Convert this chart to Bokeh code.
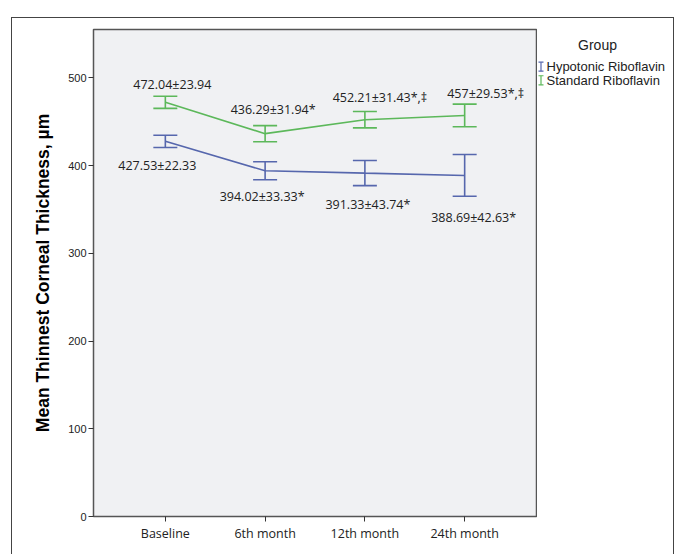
from bokeh.plotting import figure
from bokeh.layouts import row
from bokeh.models import (ColumnDataSource, Whisker, TeeHead, Range1d,
                          FixedTicker)
from bokeh.core.properties import value
from bokeh.embed import file_html
from bokeh.resources import INLINE

# ---- data ----
time_points = ["Baseline", "6th month", "12th month", "24th month"]
hypo_mean = [427.53, 394.02, 391.33, 388.69]
hypo_ci = [7.0, 10.2, 14.3, 23.8]
std_mean = [472.04, 436.29, 452.21, 457.0]
std_ci = [6.9, 9.2, 9.3, 12.9]
hypo_labels = ["427.53\u00b122.33", "394.02\u00b133.33*", "391.33\u00b143.74*", "388.69\u00b142.63*"]
std_labels = ["472.04\u00b123.94", "436.29\u00b131.94*", "452.21\u00b131.43*,\u2021", "457\u00b129.53*,\u2021"]
y_ticks = [0, 100, 200, 300, 400, 500]
series_names = ["Hypotonic Riboflavin", "Standard Riboflavin"]
legend_title = "Group"

# ---- style ----
BLUE = "#5667ad"
GREEN = "#5cb85a"
series_colors = [BLUE, GREEN]
hypo_dx = [-8, -3, 3, 9]
hypo_dy = [24, 26, 31, 42]
std_dx = [7, 8, 15, 21]
std_dy = [-18, -24, -22, -22]
BORDER = "1.5px solid #444444"

x_pos = list(range(1, len(time_points) + 1))

p = figure(width=526, height=537, output_backend="svg", toolbar_location=None,
           x_range=Range1d(0.28, 4.72), y_range=Range1d(0, 555),
           min_border_left=81, min_border_right=2, min_border_top=11,
           min_border_bottom=39)
p.margin = (17, 0, 0, 11)
p.styles = {"border-left": BORDER, "border-top": BORDER,
            "box-sizing": "border-box"}
p.background_fill_color = "#f0f1f3"
p.border_fill_color = "white"
p.outline_line_color = "#555555"
p.outline_line_width = 1.5
p.xgrid.visible = False
p.ygrid.visible = False

# axes
p.xaxis.ticker = FixedTicker(ticks=x_pos)
p.xaxis.major_label_overrides = {i: t for i, t in zip(x_pos, time_points)}
p.xaxis.minor_tick_line_color = None
p.xaxis.major_tick_in = 0
p.xaxis.major_tick_out = 5
p.xaxis.axis_line_color = "#555555"
p.xaxis.major_tick_line_color = "#333333"
p.xaxis.major_label_text_font = "Open Sans"
p.xaxis.major_label_text_font_size = "12.5px"
p.xaxis.major_label_text_color = "#222222"
p.xaxis.major_label_standoff = 3

p.yaxis.ticker = FixedTicker(ticks=y_ticks)
p.yaxis.minor_tick_line_color = None
p.yaxis.major_tick_in = 0
p.yaxis.major_tick_out = 5
p.yaxis.axis_line_color = "#555555"
p.yaxis.major_tick_line_color = "#333333"
p.yaxis.major_label_text_font = "Liberation Sans"
p.yaxis.major_label_text_font_size = "11px"
p.yaxis.major_label_text_color = "#222222"
p.yaxis.major_label_standoff = 2
p.yaxis.axis_label = "Mean Thinnest Corneal Thickness, \u00b5m"
p.yaxis.axis_label_text_font = "Liberation Sans"
p.yaxis.axis_label_text_font_style = "bold"
p.yaxis.axis_label_text_font_size = "17.5px"
p.yaxis.axis_label_text_color = "#000000"
p.yaxis.axis_label_standoff = 12

for mean, ci, labels, dx, dy, color in [
        (hypo_mean, hypo_ci, hypo_labels, hypo_dx, hypo_dy, BLUE),
        (std_mean, std_ci, std_labels, std_dx, std_dy, GREEN)]:
    src = ColumnDataSource(dict(
        x=x_pos, y=mean,
        upper=[m + c for m, c in zip(mean, ci)],
        lower=[m - c for m, c in zip(mean, ci)],
        text=labels, dx=dx, dy=dy))
    p.line("x", "y", source=src, line_color=color, line_width=1.6)
    w = Whisker(base="x", upper="upper", lower="lower", source=src,
                dimension="height", line_color=color, line_width=1.6,
                upper_head=TeeHead(size=24, line_color=color, line_width=1.6),
                lower_head=TeeHead(size=24, line_color=color, line_width=1.6))
    p.add_layout(w)
    p.text("x", "y", text="text", source=src, x_offset="dx", y_offset="dy",
           text_align="center", text_baseline="middle",
           text_font=value("Open Sans"), text_font_size="12.5px",
           text_color="#222222")

# ---- legend panel (separate small figure, pixel-like coordinates) ----
q = figure(width=137, height=537, output_backend="svg", toolbar_location=None,
           x_range=Range1d(0, 137), y_range=Range1d(537, 0),
           x_axis_location=None, y_axis_location=None, min_border=0)
q.margin = (17, 0, 0, 0)
q.styles = {"border-top": BORDER, "border-right": BORDER,
            "box-sizing": "border-box"}
q.outline_line_color = None
q.grid.visible = False
q.background_fill_color = "white"
q.border_fill_color = "white"

row_y = [41, 56]
icon_x = 3.5
q.text(x=[60], y=[17], text=[legend_title], text_align="center",
       text_baseline="middle", text_font=value("Liberation Sans"),
       text_font_size="14px", text_color="#222222")
q.text(x=[9, 9], y=row_y, text=series_names, text_align="left",
       text_baseline="middle", text_font=value("Liberation Sans"),
       text_font_size="13px", text_color="#222222")
for yy, color in zip(row_y, series_colors):
    q.segment(x0=[icon_x, icon_x - 2.5, icon_x - 2.5],
              y0=[yy - 5, yy - 5, yy + 5],
              x1=[icon_x, icon_x + 2.5, icon_x + 2.5],
              y1=[yy + 5, yy - 5, yy + 5],
              line_color=color, line_width=1.2)

layout = row(p, q, spacing=0)
open("out.html", "w").write(file_html(layout, INLINE))
